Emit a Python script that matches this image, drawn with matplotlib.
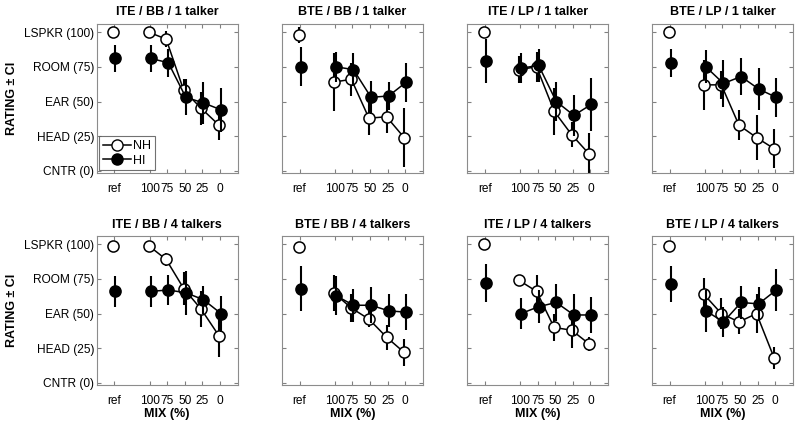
import matplotlib
matplotlib.use("Agg")
import matplotlib.pyplot as plt
from matplotlib.lines import Line2D

plt.rcParams['font.family'] = ['Liberation Sans', 'DejaVu Sans']

# x categories and y rating scale
mix_labels = ['ref', '100', '75', '50', '25', '0']
mix_pos = [0, 2, 3, 4, 5, 6]
rating_ticks = [0, 25, 50, 75, 100]
rating_labels = ['CNTR (0)', 'HEAD (25)', 'EAR (50)', 'ROOM (75)', 'LSPKR (100)']

titles = ['ITE / BB / 1 talker', 'BTE / BB / 1 talker', 'ITE / LP / 1 talker', 'BTE / LP / 1 talker',
          'ITE / BB / 4 talkers', 'BTE / BB / 4 talkers', 'ITE / LP / 4 talkers', 'BTE / LP / 4 talkers']

# mean ratings, one list per panel: ref, 100, 75, 50, 25, 0
nh_mean = [
    [100, 100, 95, 58, 45, 33],
    [98, 64, 66, 38, 39, 24],
    [100, 73, 75, 43, 26, 12],
    [100, 62, 62, 33, 24, 16],
    [99, 99, 89, 68, 53, 34],
    [98, 65, 54, 46, 33, 22],
    [100, 74, 66, 40, 38, 28],
    [99, 64, 50, 44, 50, 18],
]
nh_ci = [
    [1, 1, 6, 8, 12, 11],
    [6, 21, 12, 12, 12, 21],
    [1, 10, 11, 17, 9, 15],
    [1, 18, 10, 11, 16, 14],
    [3, 3, 5, 12, 13, 15],
    [3, 13, 10, 6, 9, 10],
    [1, 2, 12, 10, 13, 5],
    [1, 12, 11, 9, 14, 8],
]
hi_mean = [
    [81, 81, 78, 53, 49, 44],
    [75, 75, 73, 53, 54, 64],
    [79, 74, 76, 50, 40, 48],
    [78, 75, 63, 68, 59, 53],
    [66, 66, 67, 65, 60, 50],
    [68, 63, 56, 56, 52, 51],
    [72, 50, 55, 58, 49, 49],
    [71, 52, 44, 58, 57, 67],
]
hi_ci = [
    [10, 10, 10, 13, 15, 16],
    [14, 11, 12, 12, 10, 14],
    [16, 11, 12, 14, 15, 19],
    [10, 12, 17, 13, 15, 14],
    [11, 11, 11, 16, 10, 13],
    [16, 14, 12, 13, 12, 13],
    [14, 11, 12, 13, 15, 13],
    [13, 15, 11, 12, 12, 15],
]

fig = plt.figure(figsize=(8, 4.25), dpi=100)
lefts = [0.121, 0.3525, 0.584, 0.815]
bottoms = [0.593, 0.094]
w, h = 0.176, 0.351

for i in range(8):
    r, c = divmod(i, 4)
    ax = fig.add_axes([lefts[c], bottoms[r], w, h])

    for mean, ci, face, dx, z in [(nh_mean[i], nh_ci[i], 'white', -0.06, 2),
                                  (hi_mean[i], hi_ci[i], 'black', 0.06, 3)]:
        xs = [p + dx for p in mix_pos]
        ax.errorbar(xs, mean, yerr=ci, fmt='none', ecolor='black', elinewidth=1.5,
                    capsize=0, zorder=z)
        ax.plot(xs[1:], mean[1:], '-', color='black', lw=1.1, zorder=z)
        ax.plot(xs, mean, 'o', ms=8, mfc=face, mec='black', mew=1.1, zorder=z + 0.5)

    ax.set_xlim(-1, 7)
    ax.set_ylim(-1.5, 106)
    ax.set_xticks(mix_pos)
    ax.set_xticklabels(mix_labels, fontsize=8.6)
    ax.set_yticks(rating_ticks)
    if c == 0:
        ax.set_yticklabels(rating_labels, fontsize=8.6)
        ax.set_ylabel('RATING ± CI', fontsize=9, fontweight='bold')
        ax.yaxis.set_label_coords(-0.56, 0.5)
    else:
        ax.set_yticklabels([])
    if r == 1:
        ax.set_xlabel('MIX (%)', fontsize=9, fontweight='bold', labelpad=1)
    ax.set_title(titles[i], fontsize=9, fontweight='bold', pad=6)
    ax.tick_params(direction='in', top=True, right=True, length=3, color='0.5')
    ax.tick_params(axis='y', pad=2)
    ax.tick_params(axis='x', pad=7)
    for s in ax.spines.values():
        s.set_color('0.55')
        s.set_linewidth(0.8)

    if i == 0:
        handles = [Line2D([], [], color='black', lw=1.1, marker='o', ms=8, mfc='white', mec='black'),
                   Line2D([], [], color='black', lw=1.1, marker='o', ms=8, mfc='black', mec='black')]
        leg = ax.legend(handles, ['NH', 'HI'], loc='lower left', fontsize=9, frameon=True,
                        fancybox=False, edgecolor='0.3', handlelength=2.2, borderaxespad=0.2,
                        borderpad=0.3, labelspacing=0.2, handletextpad=0.2)
        leg.get_frame().set_linewidth(0.8)

fig.savefig('out.png', dpi=100)
